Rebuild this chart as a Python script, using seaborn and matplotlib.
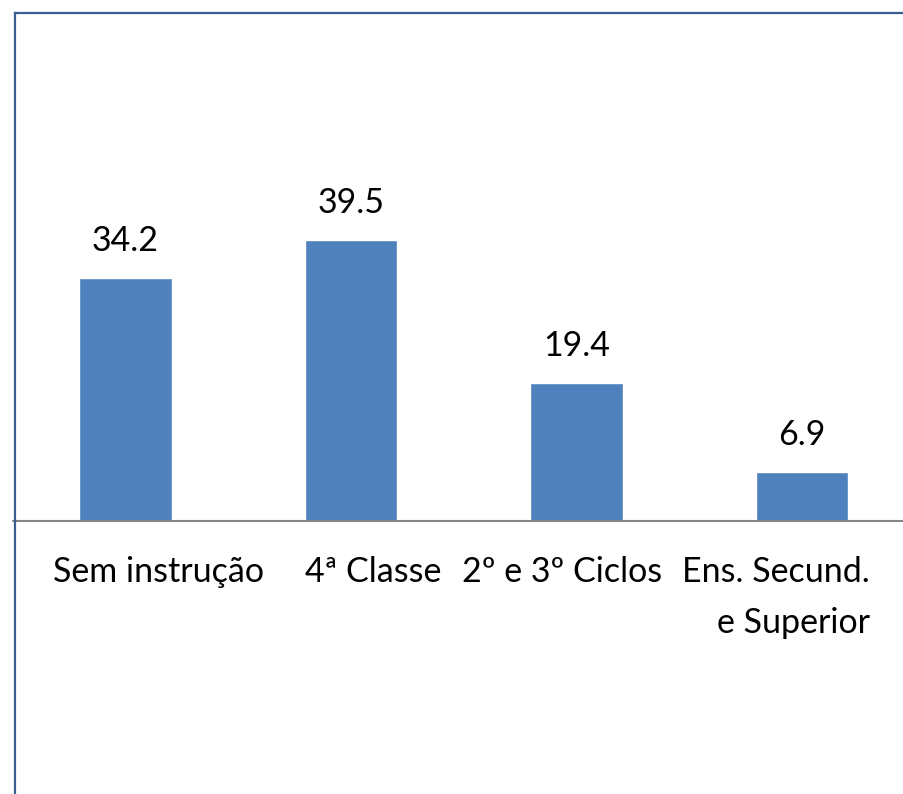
import matplotlib
matplotlib.use("Agg")
import matplotlib.pyplot as plt
import matplotlib.transforms as mtransforms
from matplotlib.lines import Line2D
import seaborn as sns
import pandas as pd

# Distribution by education level (%)
categories = ["Sem instrução", "4ª Classe", "2º e 3º Ciclos", "Ens. Secund.\ne Superior"]
values = [34.2, 39.5, 19.4, 6.9]

sns.set_theme(style="white")
plt.rcParams["font.family"] = ["Lato", "DejaVu Sans"]

W, H, DPI = 904, 794, 100
fig = plt.figure(figsize=(W / DPI, H / DPI), dpi=DPI)
fig.patch.set_facecolor("white")

# axes geometry in pixels
base_y = 521          # zero line, from top
px_per_unit = 7.11
top_y = 14
left_px = 12.75
right_px = 914.75
ax = fig.add_axes([left_px / W, (H - base_y) / H,
                   (right_px - left_px) / W, (base_y - top_y) / H])
ax.set_facecolor("none")

df = pd.DataFrame({"cat": categories, "val": values})
sns.barplot(data=df, x="cat", y="val", color="#4F81BD", saturation=1,
            width=0.408, ax=ax, zorder=2)

ax.set_xlim(-0.5, 3.5)
ax.set_ylim(0, (base_y - top_y) / px_per_unit)

for c in ax.containers:
    ax.bar_label(c, labels=[f"{v:.1f}" for v in values], padding=15,
                 fontsize=24.5, color="#000000")

for s in ax.spines.values():
    s.set_visible(False)
ax.set_yticks([])
ax.set_xlabel("")
ax.set_ylabel("")
ax.axhline(0, color="#878787", linewidth=1.5, zorder=3, clip_on=False)

ax.tick_params(axis="x", length=0, pad=25)
ax.set_xticks(range(len(categories)))
ax.set_xticklabels(categories, fontsize=24.5, color="#000000")
shifts = [33, 22, -14, -26]
for lab, dx in zip(ax.get_xticklabels(), shifts):
    lab.set_transform(lab.get_transform() +
                      mtransforms.ScaledTranslation(dx / DPI, 0, fig.dpi_scale_trans))
    lab.set_multialignment("right")
    lab.set_linespacing(1.75)

# outer frame (left and top edges)
frame_x = 15 / W
frame_y = 1 - 13 / H
fig.add_artist(Line2D([frame_x, frame_x], [0, frame_y], transform=fig.transFigure,
                      color="#3A5E92", linewidth=1.6, solid_capstyle="projecting"))
fig.add_artist(Line2D([frame_x, 1.0], [frame_y, frame_y], transform=fig.transFigure,
                      color="#3A5E92", linewidth=1.6, solid_capstyle="projecting"))

fig.savefig("out.png", dpi=DPI)
